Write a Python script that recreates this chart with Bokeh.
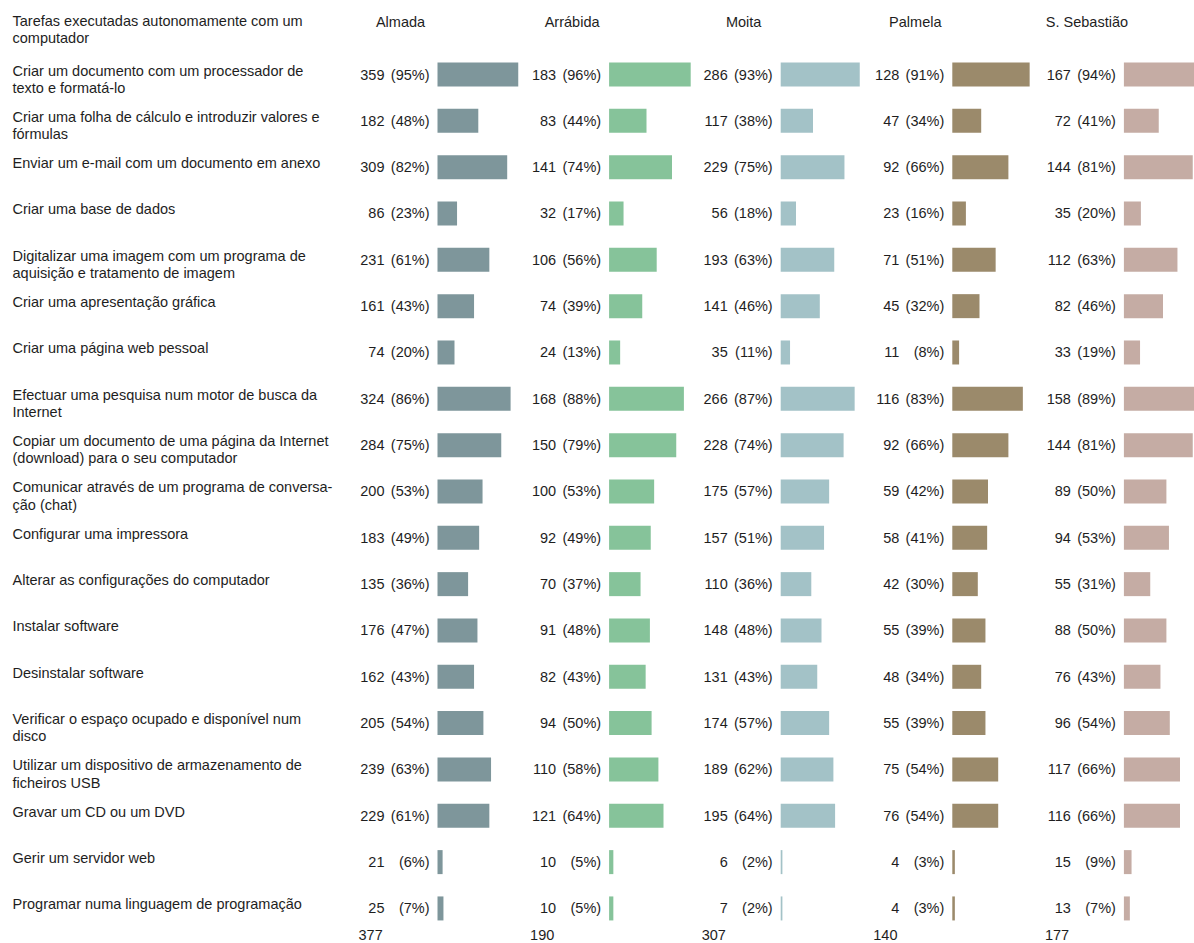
from bokeh.plotting import figure
from bokeh.models import Range1d, ColumnDataSource
from bokeh.core.properties import value
from bokeh.embed import file_html
from bokeh.resources import INLINE

# ---------------- data ----------------
header_label = "Tarefas executadas autonomamente com um\ncomputador"

tasks = [
    "Criar um documento com um processador de\ntexto e formatá-lo",
    "Criar uma folha de cálculo e introduzir valores e\nfórmulas",
    "Enviar um e-mail com um documento em anexo",
    "Criar uma base de dados",
    "Digitalizar uma imagem com um programa de\naquisição e tratamento de imagem",
    "Criar uma apresentação gráfica",
    "Criar uma página web pessoal",
    "Efectuar uma pesquisa num motor de busca da\nInternet",
    "Copiar um documento de uma página da Internet\n(download) para o seu computador",
    "Comunicar através de um programa de conversa-\nção (chat)",
    "Configurar uma impressora",
    "Alterar as configurações do computador",
    "Instalar software",
    "Desinstalar software",
    "Verificar o espaço ocupado e disponível num\ndisco",
    "Utilizar um dispositivo de armazenamento de\nficheiros USB",
    "Gravar um CD ou um DVD",
    "Gerir um servidor web",
    "Programar numa linguagem de programação",
]

groups = ["Almada", "Arrábida", "Moita", "Palmela", "S. Sebastião"]
totals = [377, 190, 307, 140, 177]

almada_n = [359, 182, 309, 86, 231, 161, 74, 324, 284, 200, 183, 135, 176, 162, 205, 239, 229, 21, 25]
almada_pct = [95, 48, 82, 23, 61, 43, 20, 86, 75, 53, 49, 36, 47, 43, 54, 63, 61, 6, 7]

arrabida_n = [183, 83, 141, 32, 106, 74, 24, 168, 150, 100, 92, 70, 91, 82, 94, 110, 121, 10, 10]
arrabida_pct = [96, 44, 74, 17, 56, 39, 13, 88, 79, 53, 49, 37, 48, 43, 50, 58, 64, 5, 5]

moita_n = [286, 117, 229, 56, 193, 141, 35, 266, 228, 175, 157, 110, 148, 131, 174, 189, 195, 6, 7]
moita_pct = [93, 38, 75, 18, 63, 46, 11, 87, 74, 57, 51, 36, 48, 43, 57, 62, 64, 2, 2]

palmela_n = [128, 47, 92, 23, 71, 45, 11, 116, 92, 59, 58, 42, 55, 48, 55, 75, 76, 4, 4]
palmela_pct = [91, 34, 66, 16, 51, 32, 8, 83, 66, 42, 41, 30, 39, 34, 39, 54, 54, 3, 3]

sseb_n = [167, 72, 144, 35, 112, 82, 33, 158, 144, 89, 94, 55, 88, 76, 96, 117, 116, 15, 13]
sseb_pct = [94, 41, 81, 20, 63, 46, 19, 89, 81, 50, 53, 31, 50, 43, 54, 66, 66, 9, 7]

counts = [almada_n, arrabida_n, moita_n, palmela_n, sseb_n]
pcts = [almada_pct, arrabida_pct, moita_pct, palmela_pct, sseb_pct]

# ---------------- style / layout ----------------
colors = ["#7e969b", "#86c39a", "#a3c2c7", "#9b8a6b", "#c5aca4"]
FONT = value("Liberation Sans")
FS = "14.5px"
TXT = "#1e1e1e"

W, H = 1194, 943
ROW0 = 74.0        # centre of first data row
ROW_STEP = 46.33   # distance between rows
HEADER_Y = 21.0
TOTAL_Y = 934.0
BAR_H = 24.0
BAR_X0 = 437.0     # left edge of first group's bars
GROUP_STEP = 171.6
PX_PER_PCT = 0.85
LABEL_X = 12.0

p = figure(width=W, height=H, x_range=Range1d(0, W), y_range=Range1d(H, 0),
           output_backend="svg", toolbar_location=None, min_border=0,
           background_fill_color="white", border_fill_color="white")
p.axis.visible = False
p.grid.visible = False
p.outline_line_color = None

n = len(tasks)
row_y = [ROW0 + i * ROW_STEP for i in range(n)]

# task labels
p.text(x=[LABEL_X] * n, y=[y - BAR_H / 2 for y in row_y], text=tasks,
       text_font=FONT, text_font_size=FS, text_color=TXT,
       text_align="left", text_baseline="top", text_line_height=1.08)
p.text(x=[LABEL_X], y=[HEADER_Y - 9], text=[header_label],
       text_font=FONT, text_font_size=FS, text_color=TXT,
       text_align="left", text_baseline="top", text_line_height=1.08)

for g, name in enumerate(groups):
    x0 = BAR_X0 + g * GROUP_STEP
    src = ColumnDataSource(dict(
        y=row_y,
        left=[x0] * n,
        right=[x0 + v * PX_PER_PCT for v in pcts[g]],
        cnt=[str(c) for c in counts[g]],
        pct=["(%d%%)" % v for v in pcts[g]],
        xc=[x0 - 53] * n,
        xp=[x0 - 8] * n,
    ))
    p.hbar(y="y", left="left", right="right", height=BAR_H, source=src,
           fill_color=colors[g], line_color=None)
    p.text(x="xc", y="y", text="cnt", source=src, text_font=FONT,
           text_font_size=FS, text_color=TXT, text_align="right",
           text_baseline="middle")
    p.text(x="xp", y="y", text="pct", source=src, text_font=FONT,
           text_font_size=FS, text_color=TXT, text_align="right",
           text_baseline="middle")
    # header
    p.text(x=[x0 - 37], y=[HEADER_Y], text=[name], text_font=FONT,
           text_font_size=FS, text_color=TXT, text_align="center",
           text_baseline="middle")
    # totals
    p.text(x=[x0 - 79], y=[TOTAL_Y], text=[str(totals[g])], text_font=FONT,
           text_font_size=FS, text_color=TXT, text_align="left",
           text_baseline="middle")

open("out.html", "w").write(file_html(p, INLINE))
